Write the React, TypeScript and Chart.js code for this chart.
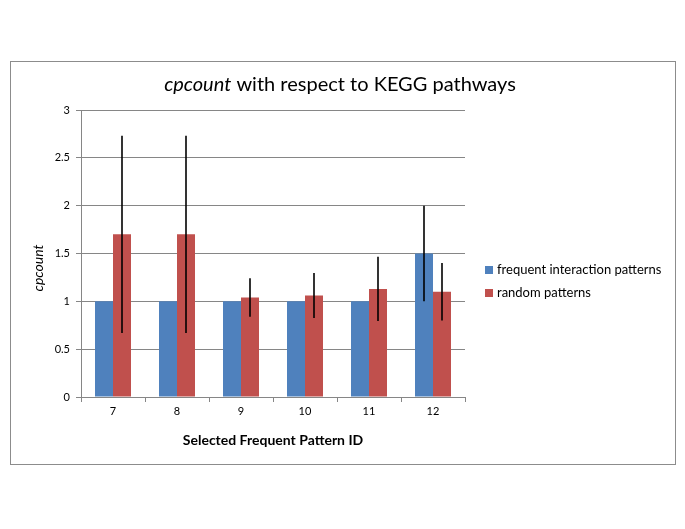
import React, { useEffect, useRef } from "react";
import { Chart, registerables } from "chart.js";

Chart.register(...registerables);

const categories = ["7", "8", "9", "10", "11", "12"];
const frequentValues = [1, 1, 1, 1, 1, 1.5];
const frequentErrors = [0, 0, 0, 0, 0, 0.5];
const randomValues = [1.7, 1.7, 1.04, 1.06, 1.13, 1.1];
const randomErrors = [1.03, 1.03, 0.2, 0.235, 0.335, 0.3];
const seriesNames = ["frequent interaction patterns", "random patterns"];
const titleItalic = "cpcount";
const titleRest = " with respect to KEGG pathways";
const yTitle = "cpcount";
const xTitle = "Selected Frequent Pattern ID";

const BLUE = "#4F81BD";
const RED = "#C0504D";
const FONT = "Lato, 'Open Sans', sans-serif";

const decorPlugin = {
  id: "decor",
  beforeDraw(chart: any) {
    const ctx = chart.ctx;
    ctx.save();
    ctx.fillStyle = "#ffffff";
    ctx.fillRect(0, 0, chart.width, chart.height);
    ctx.strokeStyle = "#8c8c8c";
    ctx.lineWidth = 1;
    ctx.strokeRect(10.5, 61.5, 665, 403);
    ctx.restore();
  },
  afterDatasetsDraw(chart: any) {
    const ctx = chart.ctx;
    const y = chart.scales.y;
    ctx.save();
    ctx.strokeStyle = "#000000";
    ctx.lineWidth = 1.6;
    const errs = [frequentErrors, randomErrors];
    chart.data.datasets.forEach((ds: any, di: number) => {
      const meta = chart.getDatasetMeta(di);
      meta.data.forEach((bar: any, i: number) => {
        const e = errs[di][i];
        if (!e) return;
        const v = ds.data[i];
        ctx.beginPath();
        ctx.moveTo(Math.round(bar.x), y.getPixelForValue(v + e));
        ctx.lineTo(Math.round(bar.x), y.getPixelForValue(v - e));
        ctx.stroke();
      });
    });
    ctx.restore();
  },
  afterDraw(chart: any) {
    const ctx = chart.ctx;
    const area = chart.chartArea;
    ctx.save();
    ctx.fillStyle = "#000000";
    ctx.textBaseline = "middle";
    // title
    ctx.font = `italic 20px ${FONT}`;
    const w1 = ctx.measureText(titleItalic).width;
    ctx.font = `20px ${FONT}`;
    const w2 = ctx.measureText(titleRest).width;
    const tx = 340 - (w1 + w2) / 2;
    ctx.textAlign = "left";
    ctx.font = `italic 20px ${FONT}`;
    ctx.fillText(titleItalic, tx, 85);
    ctx.font = `20px ${FONT}`;
    ctx.fillText(titleRest, tx + w1, 85);
    // y title
    ctx.save();
    ctx.translate(38, 268);
    ctx.rotate(-Math.PI / 2);
    ctx.textAlign = "center";
    ctx.font = `italic 14px ${FONT}`;
    ctx.fillText(yTitle, 0, 0);
    ctx.restore();
    // x title
    ctx.textAlign = "center";
    ctx.font = `bold 14px ${FONT}`;
    ctx.fillText(xTitle, (area.left + area.right) / 2, 440);
    // legend
    const colors = [BLUE, RED];
    ctx.textAlign = "left";
    ctx.font = `13px ${FONT}`;
    seriesNames.forEach((n, i) => {
      const cy = 270 + i * 23;
      ctx.fillStyle = colors[i];
      ctx.fillRect(485, cy - 4, 8, 8);
      ctx.fillStyle = "#000000";
      ctx.fillText(n, 497, cy);
    });
    ctx.restore();
  },
};

export default function App() {
  const ref = useRef<HTMLCanvasElement>(null);
  useEffect(() => {
    if (!ref.current) return;
    const chart = new Chart(ref.current, {
      type: "bar",
      data: {
        labels: categories,
        datasets: [
          { label: seriesNames[0], data: frequentValues, backgroundColor: BLUE },
          { label: seriesNames[1], data: randomValues, backgroundColor: RED },
        ],
      },
      options: {
        animation: false,
        responsive: false,
        devicePixelRatio: 1,
        layout: { padding: { left: 10, right: 220, top: 110, bottom: 72 } },
        datasets: { bar: { barPercentage: 1, categoryPercentage: 0.5625 } },
        plugins: { legend: { display: false }, title: { display: false }, tooltip: { enabled: false } },
        scales: {
          x: {
            afterFit: (s: any) => { s.height = 60; },
            grid: { display: true, drawOnChartArea: false, drawTicks: true, tickLength: 5, color: "#868686", offset: true },
            border: { display: true, color: "#868686" },
            ticks: { color: "#000", font: { family: FONT, size: 11 }, padding: 3 },
          },
          y: {
            min: 0,
            max: 3,
            afterFit: (s: any) => { s.width = 71; },
            ticks: {
              stepSize: 0.5,
              color: "#000",
              font: { family: FONT, size: 11 },
              padding: 6,
              callback: (v: any) => String(v),
            },
            grid: { color: "#868686", tickLength: 5 },
            border: { display: true, color: "#868686" },
          },
        },
      },
      plugins: [decorPlugin],
    });
    return () => chart.destroy();
  }, []);
  return (
    <div style={{ position: "absolute", left: 0, top: 0, width: 685, height: 529 }}>
      <canvas ref={ref} width={685} height={529} style={{ display: "block" }} />
    </div>
  );
}
